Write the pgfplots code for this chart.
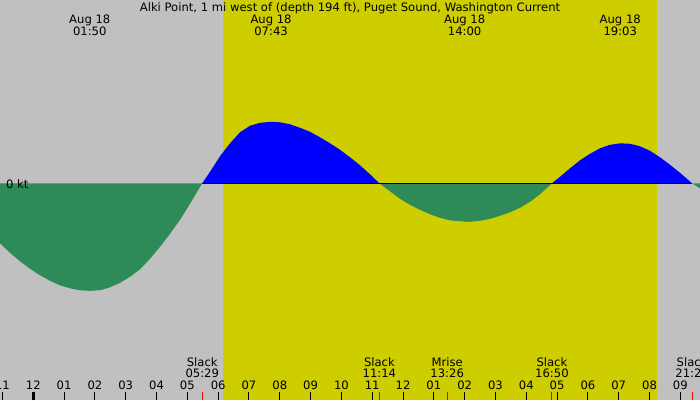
\documentclass[border=0pt]{standalone}
\usepackage{fontspec}
\setmainfont{DejaVu Sans}
\usepackage{pgfplots}
\pgfplotsset{compat=1.18}

\definecolor{bggray}{RGB}{192,192,192}
\definecolor{daylight}{RGB}{205,205,0}
\definecolor{ebb}{RGB}{46,139,87}
\definecolor{flood}{RGB}{0,0,255}

\begin{document}
\begin{tikzpicture}[font=\fontsize{11.6}{13.5}\selectfont]
\begin{axis}[
    scale only axis,
    width=700pt, height=400pt,
    xmin=-1.081, xmax=21.639,
    ymin=-4.334, ymax=3.666,
    axis background/.style={fill=bggray},
    axis line style={draw=none},
    axis on top,
    ytick=\empty,
    xtick pos=bottom,
    tick align=inside,
    major tick length=8pt,
    tick style={black, line width=1pt},
    xtick={-1,0,...,21},
    xticklabels={11,12,01,02,03,04,05,06,07,08,09,10,11,12,01,02,03,04,05,06,07,08,09},
    every x tick label/.append style={anchor=base, yshift=10.5pt, inner sep=0pt},
    extra x ticks={5.483,11.233,13.433,16.833,21.383},
    extra x tick labels={},
    extra x tick style={major tick style={draw=red, line width=1pt}},
    /pgf/number format/assume math mode=true,
    clip=false,
]
% daylight
\addplot[fill=daylight, draw=none] coordinates {
    (6.157,-4.334) (6.157,3.666) (20.243,3.666) (20.243,-4.334)} -- cycle;

% ebb 1
\addplot[fill=ebb, draw=none] coordinates {
    (-1.081,0) (-1.081,-1.20) (-0.756,-1.39) (-0.432,-1.56) (-0.107,-1.71)
    (0.217,-1.84) (0.542,-1.95) (0.867,-2.04) (1.191,-2.10) (1.516,-2.14)
    (1.833,-2.15) (2.165,-2.14) (2.489,-2.08) (2.814,-1.99) (3.139,-1.87)
    (3.463,-1.72) (3.788,-1.51) (4.112,-1.27) (4.437,-1.01) (4.761,-0.73)
    (5.086,-0.41) (5.483,0)} -- cycle;
% flood 1
\addplot[fill=flood, draw=none] coordinates {
    (5.483,0) (5.735,0.23) (6.060,0.54) (6.384,0.80) (6.709,1.02) (7.033,1.15)
    (7.358,1.21) (7.717,1.23) (8.007,1.22) (8.332,1.18) (8.656,1.11)
    (8.981,1.03) (9.306,0.92) (9.630,0.80) (9.955,0.67) (10.279,0.52)
    (10.604,0.36) (10.929,0.18) (11.233,0)} -- cycle;
% ebb 2
\addplot[fill=ebb, draw=none] coordinates {
    (11.233,0) (11.578,-0.16) (11.903,-0.31) (12.227,-0.43) (12.552,-0.53)
    (12.876,-0.62) (13.201,-0.69) (13.525,-0.74) (13.850,-0.76) (14.175,-0.77)
    (14.499,-0.75) (14.824,-0.71) (15.148,-0.65) (15.473,-0.58) (15.798,-0.49)
    (16.122,-0.37) (16.447,-0.22) (16.833,0)} -- cycle;
% flood 2
\addplot[fill=flood, draw=none] coordinates {
    (16.833,0) (17.095,0.13) (17.420,0.30) (17.744,0.46) (18.069,0.59)
    (18.393,0.70) (18.718,0.77) (19.05,0.80) (19.367,0.79) (19.691,0.74)
    (20.016,0.65) (20.341,0.52) (20.665,0.37) (20.990,0.21) (21.383,0)} -- cycle;
% ebb 3
\addplot[fill=ebb, draw=none] coordinates {
    (21.383,0) (21.639,-0.10) (21.639,0)} -- cycle;

% zero line
\addplot[black, line width=1pt] coordinates {(5.483,0) (21.383,0)};
% midnight tick
\addplot[black, line width=3pt] coordinates {(0,-4.334) (0,-4.174)};

\node[anchor=base west] at (axis cs:-1.0,-0.094) {0 kt};

\node[anchor=base] at (axis cs:10.28,3.426) {Alki Point, 1 mi west of (depth 194 ft), Puget Sound, Washington Current};

\node[anchor=base] at (axis cs:1.833,3.186) {Aug 18};
\node[anchor=base] at (axis cs:1.833,2.952) {01:50};
\node[anchor=base] at (axis cs:7.717,3.186) {Aug 18};
\node[anchor=base] at (axis cs:7.717,2.952) {07:43};
\node[anchor=base] at (axis cs:14.0,3.186) {Aug 18};
\node[anchor=base] at (axis cs:14.0,2.952) {14:00};
\node[anchor=base] at (axis cs:19.05,3.186) {Aug 18};
\node[anchor=base] at (axis cs:19.05,2.952) {19:03};

\node[anchor=base] at (axis cs:5.483,-3.664) {Slack};
\node[anchor=base] at (axis cs:5.483,-3.888) {05:29};
\node[anchor=base] at (axis cs:11.233,-3.664) {Slack};
\node[anchor=base] at (axis cs:11.233,-3.888) {11:14};
\node[anchor=base] at (axis cs:13.433,-3.664) {Mrise};
\node[anchor=base] at (axis cs:13.433,-3.888) {13:26};
\node[anchor=base] at (axis cs:16.833,-3.664) {Slack};
\node[anchor=base] at (axis cs:16.833,-3.888) {16:50};
\node[anchor=base] at (axis cs:21.383,-3.664) {Slack};
\node[anchor=base] at (axis cs:21.383,-3.888) {21:23};
\end{axis}
\pgfresetboundingbox
\path[use as bounding box] (current axis.south west) rectangle (current axis.north east);
\end{tikzpicture}
\end{document}
